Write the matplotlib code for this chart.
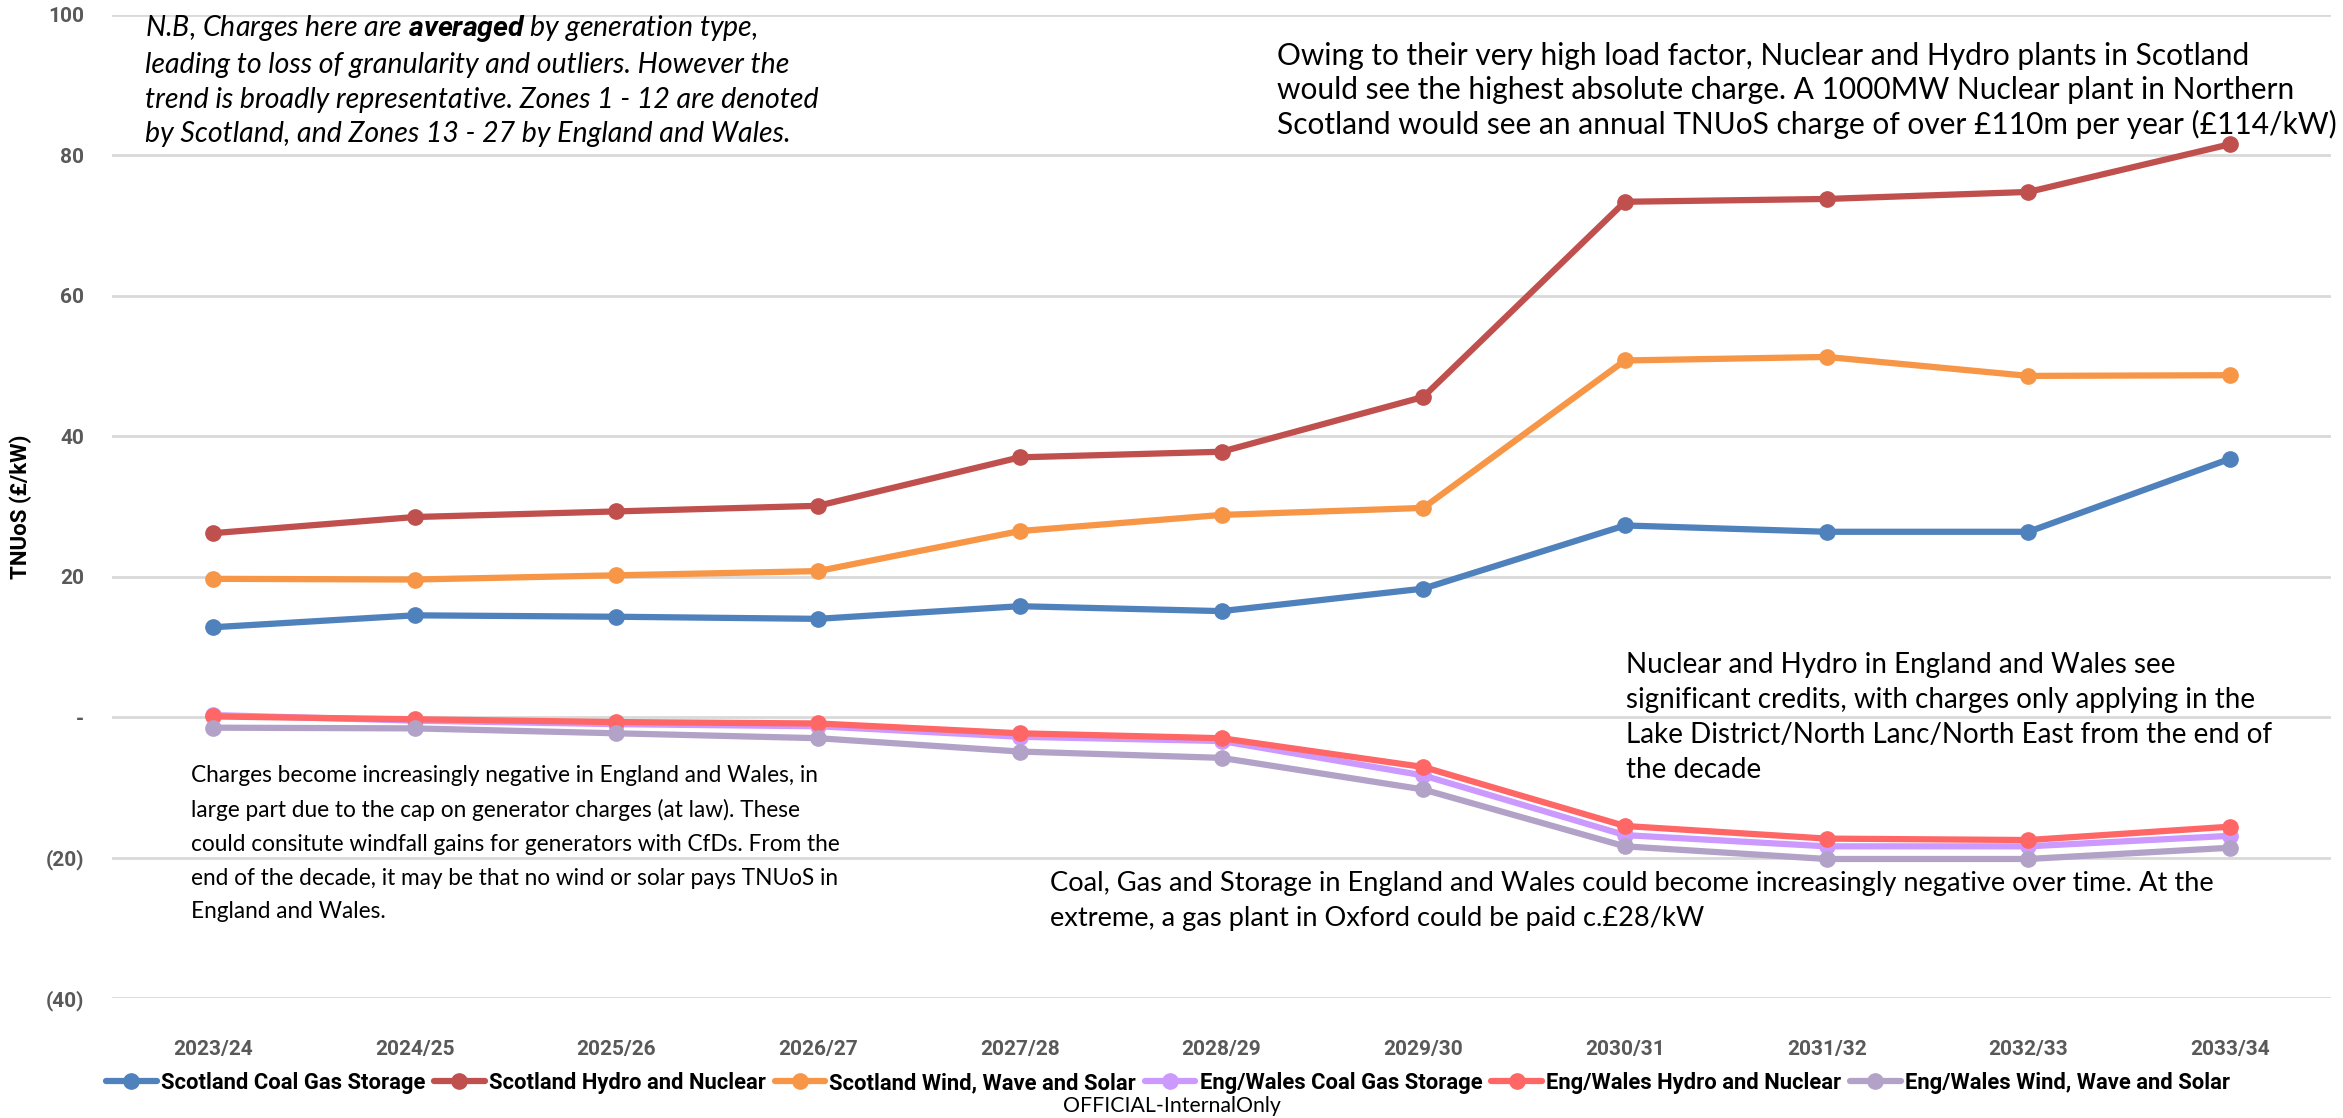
import matplotlib
matplotlib.use("Agg")
import matplotlib.pyplot as plt
from matplotlib.ticker import FuncFormatter

# --- data (TNUoS, £/kW) ---
years = ["2023/24", "2024/25", "2025/26", "2026/27", "2027/28", "2028/29",
         "2029/30", "2030/31", "2031/32", "2032/33", "2033/34"]

scot_coal = [12.8, 14.5, 14.3, 14.0, 15.8, 15.1, 18.3, 27.3, 26.4, 26.4, 36.8]
scot_hydro = [26.2, 28.5, 29.3, 30.1, 37.0, 37.8, 45.6, 73.4, 73.8, 74.8, 81.6]
scot_wind = [19.7, 19.6, 20.2, 20.8, 26.5, 28.8, 29.8, 50.8, 51.3, 48.6, 48.7]
ew_coal = [0.3, -0.5, -1.0, -1.3, -2.8, -3.4, -8.3, -16.8, -18.4, -18.4, -16.9]
ew_hydro = [0.1, -0.3, -0.7, -0.9, -2.3, -3.0, -7.1, -15.5, -17.3, -17.5, -15.6]
ew_wind = [-1.5, -1.6, -2.3, -3.0, -4.9, -5.8, -10.3, -18.4, -20.2, -20.2, -18.6]

series = [
    ("Scotland Coal Gas Storage", scot_coal, "#4F81BD"),
    ("Scotland Hydro and Nuclear", scot_hydro, "#C0504D"),
    ("Scotland Wind, Wave and Solar", scot_wind, "#F79646"),
    ("Eng/Wales Coal Gas Storage", ew_coal, "#CC99FF"),
    ("Eng/Wales Hydro and Nuclear", ew_hydro, "#FF6666"),
    ("Eng/Wales Wind, Wave and Solar", ew_wind, "#B3A2C7"),
]

plt.rcParams["font.family"] = ["Lato", "DejaVu Sans"]
plt.rcParams["mathtext.fontset"] = "custom"
plt.rcParams["mathtext.bf"] = "Roboto:italic:bold"
BOLD = ["Roboto", "DejaVu Sans"]

W, H = 2343, 1118
fig = plt.figure(figsize=(W / 100, H / 100), dpi=100)
ax = fig.add_axes([112 / W, 1 - 998 / H, (2331 - 112) / W, (998 - 15) / H])

x = list(range(len(years)))
for name, vals, col in series:
    ax.plot(x, vals, color=col, lw=4.5, marker="o", ms=11, label=name,
            solid_capstyle="round")

ax.set_xlim(-0.5, 10.5)
ax.set_ylim(-40, 100)
ax.set_yticks(range(-40, 101, 20))


def fmt(v, _):
    if v == 0:
        return "-"
    if v < 0:
        return f"({abs(v):.0f})"
    return f"{v:.0f}"


ax.yaxis.set_major_formatter(FuncFormatter(fmt))
ax.set_xticks(x)
ax.set_xticklabels(years)
ax.tick_params(length=0, labelcolor="#595959", labelsize=15)
ax.tick_params(axis="x", pad=30)
ax.tick_params(axis="y", pad=20)
for lab in ax.get_xticklabels() + ax.get_yticklabels():
    lab.set_fontweight("bold")
    lab.set_family(BOLD)
ax.grid(axis="y", color="#D9D9D9", lw=2)
ax.set_axisbelow(True)
for s in ax.spines.values():
    s.set_visible(False)

fig.text(21 / W, 1 - 507 / H, "TNUoS (£/kW)", rotation=90, ha="center",
         va="center", fontsize=16, fontweight="bold", family=BOLD)


def note(px, py, text, fs, ls, **kw):
    fig.text(px / W, 1 - py / H, text, va="top", ha="left", fontsize=fs,
             linespacing=ls, **kw)


note(145, 13, "N.B, Charges here are $\\bf{averaged}$ by generation type,\n"
     "leading to loss of granularity and outliers. However the\n"
     "trend is broadly representative. Zones 1 - 12 are denoted\n"
     "by Scotland, and Zones 13 - 27 by England and Wales.", 20.5, 1.40,
     style="italic")
note(1277, 42, "Owing to their very high load factor, Nuclear and Hydro plants in Scotland\n"
     "would see the highest absolute charge. A 1000MW Nuclear plant in Northern\n"
     "Scotland would see an annual TNUoS charge of over £110m per year (£114/kW)",
     21.5, 1.26)
note(1626, 652, "Nuclear and Hydro in England and Wales see\n"
     "significant credits, with charges only applying in the\n"
     "Lake District/North Lanc/North East from the end of\n"
     "the decade", 20, 1.43)
note(191, 765, "Charges become increasingly negative in England and Wales, in\n"
     "large part due to the cap on generator charges (at law). These\n"
     "could consitute windfall gains for generators with CfDs. From the\n"
     "end of the decade, it may be that no wind or solar pays TNUoS in\n"
     "England and Wales.", 16.3, 1.74)
note(1050, 871, "Coal, Gas and Storage in England and Wales could become increasingly negative over time. At the\n"
     "extreme, a gas plant in Oxford could be paid c.£28/kW", 19.6, 1.51)

fig.legend(loc="center", bbox_to_anchor=(1168 / W, 1 - 1083 / H), ncol=6,
           frameon=False, handlelength=2.3, columnspacing=0.4,
           handletextpad=0.2,
           prop={"size": 15.8, "weight": "bold", "family": BOLD})

fig.text(1172 / W, 1 - 1106 / H, "OFFICIAL-InternalOnly", ha="center",
         va="center", fontsize=15.3)

fig.savefig("out.png", dpi=100)
